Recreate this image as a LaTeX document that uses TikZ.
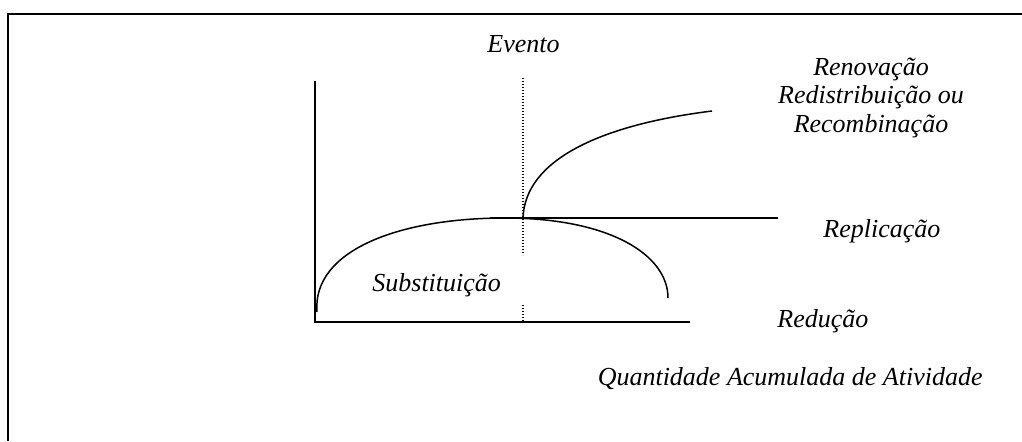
\documentclass[tikz,border=0pt]{standalone}
\usepackage{fontspec}
\setmainfont{Liberation Serif}
\usetikzlibrary{positioning}
\tikzset{
  frameline/.style={
    draw=black,
    line width=1pt
  },
  axisline/.style={
    draw=black,
    line width=0.7pt
  },
  curveline/.style={
    draw=black,
    line width=0.75pt
  },
  eventline/.style={
    draw=black,
    dash pattern=on 0.6pt off 0.9pt,
    line width=0.6pt
  },
  curvelabel/.style={
    font=\fontsize{13}{14.25}\selectfont\itshape,
    inner sep=0pt
  }
}

\begin{document}
\begin{tikzpicture}[x=0.5pt,y=-0.5pt]
  \useasboundingbox (0,0) rectangle (1022,441);
  % frame: only top and left edges show
  \coordinate (frameTL) at (8,14);
  \draw[frameline] (1022,14) -- (frameTL) -- (8,441);
  % axes
  \coordinate (yTop) at (315,81);
  \coordinate (origin) at (315,322);
  \coordinate (xEnd) at (690,322);
  \draw[axisline] (yTop) -- (origin) -- (xEnd);
  % event marker
  \coordinate (evTop) at (523,78);
  \coordinate (evMid) at (523,255);
  \coordinate (evLow) at (523,305);
  \coordinate (evBase) at (523,322);
  \draw[eventline] (evTop) -- (evMid);
  \draw[eventline] (evLow) -- (evBase);
  % curves
  \coordinate (peak) at (523,218);
  \coordinate (repStart) at (490,218);
  \coordinate (repEnd) at (778,218);
  \coordinate (renEnd) at (712,111);
  \coordinate (arcStart) at (317,312);
  \coordinate (arcTop) at (505,218);
  \coordinate (arcEnd) at (668,298);
  \draw[curveline] (repStart) -- (repEnd);
  \draw[curveline] (peak) .. controls (525,160) and (600,125) .. (renEnd);
  \draw[curveline] (arcStart) .. controls (312,250) and (400,218) .. (arcTop)
    .. controls (610,218) and (668,255) .. (arcEnd);
  % labels
  \node[curvelabel, anchor=base west] (evento) at (487,52) {Evento};
  \node[curvelabel, anchor=base, align=center] (renov) at (871,132) {Renovação\\Redistribuição ou\\Recombinação};
  \node[curvelabel, anchor=base west] (replic) at (823,237) {Replicação};
  \node[curvelabel, anchor=base west] (subst) at (372,291) {Substituição};
  \node[curvelabel, anchor=base west] (reduc) at (777,327) {Redução};
  \node[curvelabel, anchor=base east] (quant) at (983,385) {Quantidade Acumulada de Atividade};
\end{tikzpicture}
\end{document}
